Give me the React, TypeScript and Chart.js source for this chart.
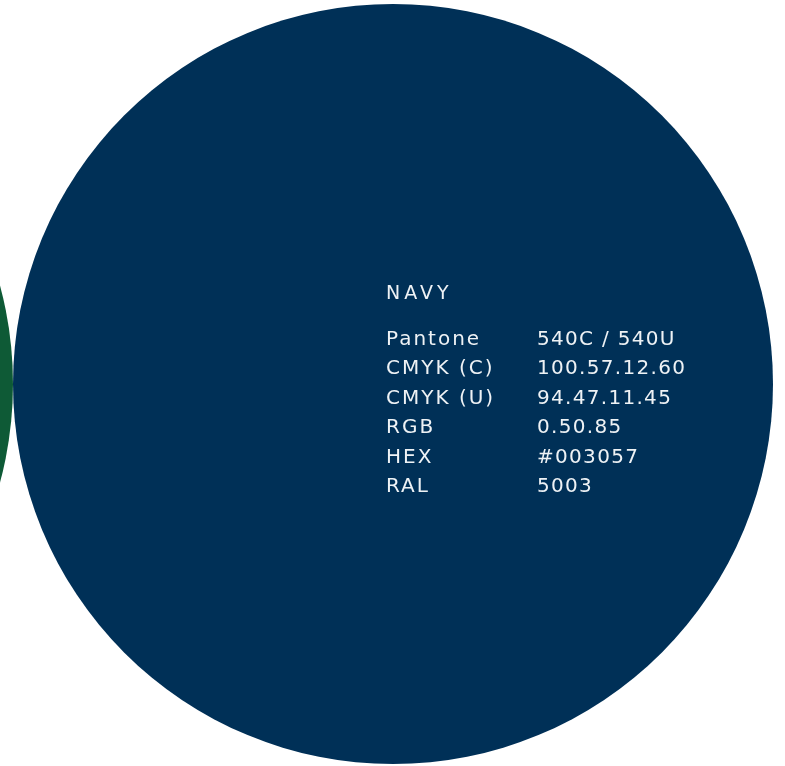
import React, { useEffect, useRef } from "react";
import { Chart, registerables } from "chart.js";

Chart.register(...registerables);

// two brand colour swatches, drawn as bubbles
const swatchNames = ["GREEN", "NAVY"];
const swatchX = [-367, 393];
const swatchY = [384, 384];
const swatchR = [380, 380];
const swatchColors = ["#0e5a36", "#003057"];

// spec sheet of the navy swatch
const specLabels = ["Pantone", "CMYK (C)", "CMYK (U)", "RGB", "HEX", "RAL"];
const specValues = ["540C / 540U", "100.57.12.60", "94.47.11.45", "0.50.85", "#003057", "5003"];

const PAGE_W = 785;
const PAGE_H = 766;

const FONT = "'DejaVu Sans', sans-serif";

const specPlugin = {
  id: "specText",
  afterDatasetsDraw: (chart: Chart<"bubble">) => {
    const meta = chart.getDatasetMeta(0);
    const navy = meta.data[1];
    if (!navy) return;
    const ctx = chart.ctx;
    const left = navy.x - 7;
    const titleY = navy.y - 85;

    ctx.save();
    ctx.fillStyle = "#eef2f5";
    ctx.textAlign = "left";
    ctx.textBaseline = "alphabetic";
    (ctx as any).letterSpacing = "4px";
    ctx.font = `19px ${FONT}`;
    ctx.fillText(swatchNames[1], left, titleY);

    ctx.font = `20px ${FONT}`;
    specLabels.forEach((label, i) => {
      const y = titleY + 46 + i * 29.4;
      (ctx as any).letterSpacing = "2px";
      ctx.fillText(label, left, y);
      (ctx as any).letterSpacing = "1.3px";
      ctx.fillText(specValues[i], left + 151, y);
    });
    ctx.restore();
  },
};

const App: React.FC = () => {
  const canvasRef = useRef<HTMLCanvasElement>(null);

  useEffect(() => {
    document.body.style.margin = "0";
    document.body.style.overflow = "hidden";
    if (!canvasRef.current) return;
    const ctx = canvasRef.current.getContext("2d");
    if (!ctx) return;

    const chart = new Chart(ctx, {
      type: "bubble",
      data: {
        labels: swatchNames,
        datasets: [
          {
            label: "Swatches",
            data: swatchX.map((x, i) => ({ x, y: swatchY[i], r: swatchR[i] })),
            backgroundColor: swatchColors,
            borderWidth: 0,
            hoverBorderWidth: 0,
            clip: false,
          },
        ],
      },
      options: {
        responsive: false,
        animation: false,
        devicePixelRatio: 1,
        events: [],
        // bubbles would otherwise pad the chart area by their radius
        layout: { padding: 0, autoPadding: false },
        plugins: {
          legend: { display: false },
          tooltip: { enabled: false },
        },
        scales: {
          x: { type: "linear", min: 0, max: PAGE_W, display: false },
          y: { type: "linear", min: 0, max: PAGE_H, reverse: true, display: false },
        },
      },
      plugins: [specPlugin],
    });

    return () => {
      chart.destroy();
    };
  }, []);

  return (
    <div style={{ width: `${PAGE_W}px`, height: `${PAGE_H}px`, overflow: "hidden", background: "#ffffff" }}>
      <canvas
        ref={canvasRef}
        width={PAGE_W}
        height={PAGE_H}
        style={{ display: "block", width: `${PAGE_W}px`, height: `${PAGE_H}px` }}
      />
    </div>
  );
};

export default App;
